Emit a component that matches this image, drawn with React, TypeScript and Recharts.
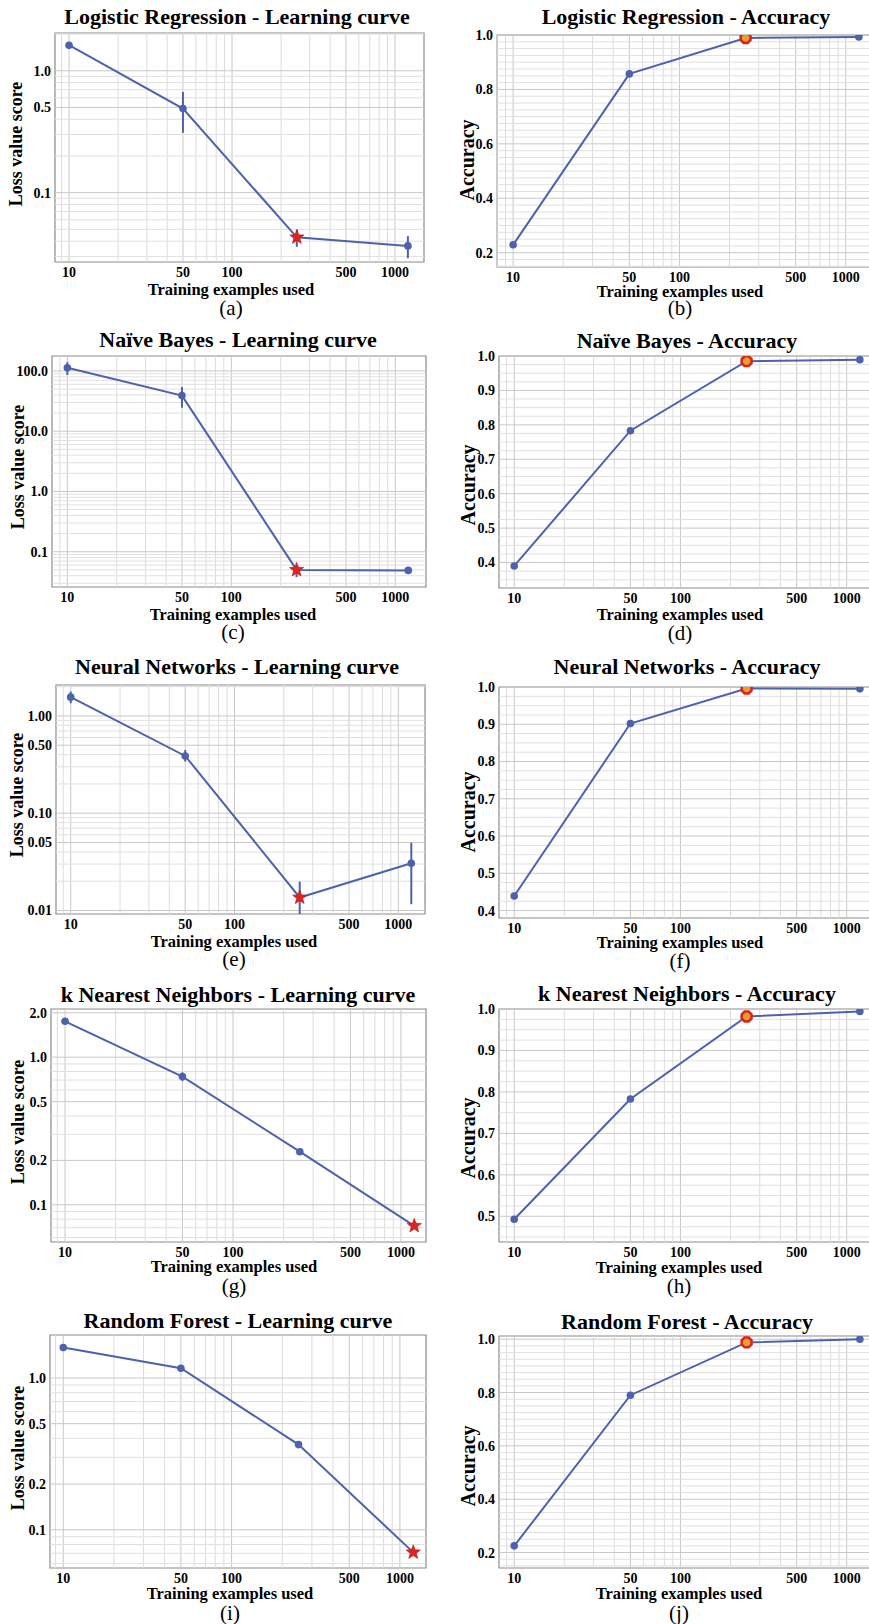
import React from 'react'
import { ComposedChart, Line, XAxis, YAxis, ErrorBar, ReferenceLine, ReferenceArea } from 'recharts'

// training set sizes shared by every panel
const trainingSizes = [10, 50, 250, 1200]
const xTicks = [10, 50, 100, 500, 1000]

// loss values (log axis); errors are [below, above]
const lrLoss = [1.62, 0.49, 0.043, 0.0366]
const lrLossErr = [[0, 0], [0.18, 0.18], [0.007, 0.007], [0.0076, 0.0074]]
const nbLoss = [113, 39, 0.05, 0.049]
const nbLossErr = [[27, 27], [14.4, 15], [0.012, 0.008], [0, 0]]
const nnLoss = [1.56, 0.388, 0.0136, 0.0306]
const nnLossErr = [[0.21, 0.22], [0.048, 0.059], [0.0044, 0.0062], [0.019, 0.019]]
const knnLoss = [1.75, 0.739, 0.229, 0.072]
const knnLossErr = [[0, 0], [0.05, 0.05], [0, 0], [0, 0]]
const rfLoss = [1.59, 1.16, 0.364, 0.071]
const rfLossErr = [[0, 0], [0, 0], [0, 0], [0, 0]]

// accuracy values
const lrAcc = [0.229, 0.857, 0.989, 0.993]
const nbAcc = [0.39, 0.783, 0.985, 0.989]
const nnAcc = [0.439, 0.902, 0.996, 0.995]
const knnAcc = [0.493, 0.783, 0.982, 0.994]
const rfAcc = [0.225, 0.79, 0.988, 1.0]

// tick labels
const lrLossTicks = [0.1, 0.5, 1.0]
const lrLossLabels = ['0.1', '0.5', '1.0']
const nbLossTicks = [0.1, 1, 10, 100]
const nbLossLabels = ['0.1', '1.0', '10.0', '100.0']
const nnLossTicks = [0.01, 0.05, 0.1, 0.5, 1]
const nnLossLabels = ['0.01', '0.05', '0.10', '0.50', '1.00']
const knnLossTicks = [0.1, 0.2, 0.5, 1, 2]
const knnLossLabels = ['0.1', '0.2', '0.5', '1.0', '2.0']
const rfLossTicks = [0.1, 0.2, 0.5, 1]
const rfLossLabels = ['0.1', '0.2', '0.5', '1.0']
const accTicksWide = [0.2, 0.4, 0.6, 0.8, 1.0]
const accTicksNarrow4 = [0.4, 0.5, 0.6, 0.7, 0.8, 0.9, 1.0]
const accTicksNarrow5 = [0.5, 0.6, 0.7, 0.8, 0.9, 1.0]

const BLUE = '#4d62ad'
const FONT = '"Liberation Serif", "Times New Roman", serif'
const YW = 50
const XH = 26
const M = 10

const logGrid = (lo: number, hi: number) => {
	const out: number[] = []
	for (let e = -3; e <= 3; e++) {
		for (let k = 1; k <= 9; k++) {
			const v = Number((k * Math.pow(10, e)).toPrecision(6))
			if (v >= lo && v <= hi) out.push(v)
		}
	}
	return out
}

const linGrid = (lo: number, hi: number) => {
	const out: number[] = []
	for (let i = 0; i <= 44; i++) {
		const v = Number((i * 0.025).toFixed(3))
		if (v >= lo && v <= hi) out.push(v)
	}
	return out
}

const Star = ({ cx, cy }: { cx: number; cy: number }) => {
	const pts = []
	for (let i = 0; i < 10; i++) {
		const a = ((-90 + i * 36) * Math.PI) / 180
		const r = i % 2 ? 3.2 : 7.5
		pts.push(`${cx + r * Math.cos(a)},${cy + r * Math.sin(a)}`)
	}
	return <polygon points={pts.join(' ')} fill="#e0231f" stroke="#b0181a" strokeWidth={0.6} />
}

const Hex = ({ cx, cy }: { cx: number; cy: number }) => {
	const pts = []
	for (let i = 0; i < 8; i++) {
		const a = ((22.5 + i * 45) * Math.PI) / 180
		pts.push(`${cx + 5.3 * Math.cos(a)},${cy + 5.3 * Math.sin(a)}`)
	}
	return <polygon points={pts.join(' ')} fill="#e8a02c" stroke="#d8261e" strokeWidth={2.6} />
}

type PanelProps = {
	title: string
	caption: string
	yLabel: string
	box: [number, number, number, number] // left, top, right, bottom
	xDomain: [number, number]
	yDomain: [number, number]
	log: boolean
	values: number[]
	errors?: number[][]
	best: number
	yTicks: number[]
	yLabels?: string[]
	titleXY: [number, number]
	xLabelXY: [number, number]
	captionY: number
	yLabelXY: [number, number]
	yLabelSize: number
}

const Panel = (p: PanelProps) => {
	const [l, t, r, b] = p.box
	const w = r - l + YW + M
	const h = b - t + M + XH
	const data = trainingSizes.map((x, i) => ({ x, y: p.values[i], err: p.errors ? p.errors[i] : [0, 0] }))
	const xGrid = logGrid(p.xDomain[0], p.xDomain[1])
	const yGrid = p.log ? logGrid(p.yDomain[0], p.yDomain[1]) : linGrid(p.yDomain[0], p.yDomain[1])
	const fmt = (v: number) => {
		if (p.yLabels) {
			const i = p.yTicks.indexOf(v)
			return i >= 0 ? p.yLabels[i] : ''
		}
		return v.toFixed(1)
	}
	const renderDot = (props: any) => {
		const { cx, cy, index } = props
		if (cx == null || cy == null) return <g key={`d${index}`} />
		if (index === p.best)
			return <g key={`d${index}`}>{p.log ? <Star cx={cx} cy={cy} /> : <Hex cx={cx} cy={cy} />}</g>
		return <circle key={`d${index}`} cx={cx} cy={cy} r={3.8} fill={BLUE} />
	}
	const text = (x: number, y: number, s: string, size: number, bold = true, rotate = false) => (
		<div
			style={{
				position: 'absolute',
				left: x,
				top: y,
				transform: `translate(-50%, -50%)${rotate ? ' rotate(-90deg)' : ''}`,
				fontSize: size,
				fontWeight: bold ? 'bold' : 'normal',
				lineHeight: 0.9,
				whiteSpace: 'nowrap',
				color: '#000',
			}}
		>
			{s}
		</div>
	)
	const tickStyle = { fontSize: 14, fontWeight: 'bold', fill: '#000', fontFamily: FONT }

	return (
		<>
			<div style={{ position: 'absolute', left: l - YW, top: t - M, width: w, height: h }}>
				<ComposedChart width={w} height={h} data={data} margin={{ top: M, right: M, left: 0, bottom: 0 }}>
					<XAxis
						dataKey="x"
						type="number"
						scale="log"
						domain={p.xDomain}
						allowDataOverflow
						ticks={xTicks}
						height={XH}
						tickLine={false}
						axisLine={false}
						tickSize={0}
						tickMargin={5}
						tick={tickStyle}
						interval={0}
					/>
					<YAxis
						type="number"
						scale={p.log ? 'log' : 'linear'}
						domain={p.yDomain}
						allowDataOverflow
						ticks={p.yTicks}
						tickFormatter={fmt}
						width={YW}
						tickLine={false}
						axisLine={false}
						tickSize={0}
						tickMargin={4}
						tick={tickStyle}
						interval={0}
					/>
					{xGrid.map((v) => (
						<ReferenceLine
							key={`gx${v}`}
							x={v}
							stroke={xTicks.includes(v) ? '#c8c8c8' : '#dcdcdc'}
							strokeWidth={1}
						/>
					))}
					{yGrid.map((v) => (
						<ReferenceLine
							key={`gy${v}`}
							y={v}
							stroke={p.yTicks.includes(v) ? '#c8c8c8' : '#e0e0e0'}
							strokeWidth={1}
						/>
					))}
					<ReferenceArea
						x1={p.xDomain[0]}
						x2={p.xDomain[1]}
						y1={p.yDomain[0]}
						y2={p.yDomain[1]}
						fill="none"
						stroke="#8a8a8a"
						strokeWidth={1.2}
					/>
					<Line
						dataKey="y"
						stroke={BLUE}
						strokeWidth={2}
						dot={renderDot}
						activeDot={false}
						isAnimationActive={false}
					>
						{p.errors && (
							<ErrorBar dataKey="err" width={0} stroke={BLUE} strokeWidth={2} direction="y" isAnimationActive={false} />
						)}
					</Line>
				</ComposedChart>
			</div>
			{text(p.titleXY[0], p.titleXY[1], p.title, 22)}
			{text(p.xLabelXY[0], p.xLabelXY[1] + 1, 'Training examples used', 16.5)}
			{text(p.xLabelXY[0], p.captionY, p.caption, 21, false)}
			{text(p.yLabelXY[0], p.yLabelXY[1], p.yLabel, p.yLabelSize, true, true)}
		</>
	)
}

const RIGHT_X: [number, number] = [8.1, 1480]

export default function App() {
	return (
		<div
			style={{
				position: 'absolute',
				left: 0,
				top: 0,
				width: 869,
				height: 1624,
				overflow: 'hidden',
				background: '#fff',
				fontFamily: FONT,
			}}
		>
			<Panel
				title="Logistic Regression - Learning curve"
				caption="(a)"
				yLabel="Loss value score"
				box={[55, 33, 424, 262]}
				xDomain={[8.2, 1507]}
				yDomain={[0.027, 2.04]}
				log
				values={lrLoss}
				errors={lrLossErr}
				best={2}
				yTicks={lrLossTicks}
				yLabels={lrLossLabels}
				titleXY={[237, 17]}
				xLabelXY={[231, 289]}
				captionY={308}
				yLabelXY={[16, 144]}
				yLabelSize={18}
			/>
			<Panel
				title="Logistic Regression - Accuracy"
				caption="(b)"
				yLabel="Accuracy"
				box={[497, 35, 875, 267]}
				xDomain={[8.0, 1500]}
				yDomain={[0.1475, 1.0]}
				log={false}
				values={lrAcc}
				best={2}
				yTicks={accTicksWide}
				titleXY={[686, 17]}
				xLabelXY={[680, 291]}
				captionY={308}
				yLabelXY={[467, 160]}
				yLabelSize={20}
			/>
			<Panel
				title="Naïve Bayes - Learning curve"
				caption="(c)"
				yLabel="Loss value score"
				box={[52, 356, 426, 587]}
				xDomain={[8.06, 1539]}
				yDomain={[0.026, 177]}
				log
				values={nbLoss}
				errors={nbLossErr}
				best={2}
				yTicks={nbLossTicks}
				yLabels={nbLossLabels}
				titleXY={[238, 340]}
				xLabelXY={[233, 614]}
				captionY={632}
				yLabelXY={[18, 467]}
				yLabelSize={18}
			/>
			<Panel
				title="Naïve Bayes - Accuracy"
				caption="(d)"
				yLabel="Accuracy"
				box={[499, 356, 875, 588]}
				xDomain={RIGHT_X}
				yDomain={[0.326, 1.0]}
				log={false}
				values={nbAcc}
				best={2}
				yTicks={accTicksNarrow4}
				titleXY={[687, 341]}
				xLabelXY={[680, 614]}
				captionY={633}
				yLabelXY={[468, 485]}
				yLabelSize={20}
			/>
			<Panel
				title="Neural Networks - Learning curve"
				caption="(e)"
				yLabel="Loss value score"
				box={[56, 685, 425, 914]}
				xDomain={[8.13, 1455]}
				yDomain={[0.0092, 2.08]}
				log
				values={nnLoss}
				errors={nnLossErr}
				best={2}
				yTicks={nnLossTicks}
				yLabels={nnLossLabels}
				titleXY={[237, 667]}
				xLabelXY={[234, 941]}
				captionY={959}
				yLabelXY={[17, 795]}
				yLabelSize={18}
			/>
			<Panel
				title="Neural Networks - Accuracy"
				caption="(f)"
				yLabel="Accuracy"
				box={[499, 687, 875, 918]}
				xDomain={RIGHT_X}
				yDomain={[0.38, 1.0]}
				log={false}
				values={nnAcc}
				best={2}
				yTicks={accTicksNarrow4}
				titleXY={[687, 667]}
				xLabelXY={[680, 942]}
				captionY={961}
				yLabelXY={[468, 812]}
				yLabelSize={20}
			/>
			<Panel
				title="k Nearest Neighbors - Learning curve"
				caption="(g)"
				yLabel="Loss value score"
				box={[51, 1009, 426, 1242]}
				xDomain={[8.25, 1410]}
				yDomain={[0.056, 2.12]}
				log
				values={knnLoss}
				errors={knnLossErr}
				best={3}
				yTicks={knnLossTicks}
				yLabels={knnLossLabels}
				titleXY={[238, 995]}
				xLabelXY={[234, 1266]}
				captionY={1286}
				yLabelXY={[18, 1122]}
				yLabelSize={18}
			/>
			<Panel
				title="k Nearest Neighbors - Accuracy"
				caption="(h)"
				yLabel="Accuracy"
				box={[499, 1009, 875, 1242]}
				xDomain={RIGHT_X}
				yDomain={[0.438, 1.0]}
				log={false}
				values={knnAcc}
				best={2}
				yTicks={accTicksNarrow5}
				titleXY={[687, 994]}
				xLabelXY={[679, 1267]}
				captionY={1286}
				yLabelXY={[468, 1138]}
				yLabelSize={20}
			/>
			<Panel
				title="Random Forest - Learning curve"
				caption="(i)"
				yLabel="Loss value score"
				box={[50, 1335, 426, 1568]}
				xDomain={[8.34, 1429]}
				yDomain={[0.056, 1.92]}
				log
				values={rfLoss}
				errors={rfLossErr}
				best={3}
				yTicks={rfLossTicks}
				yLabels={rfLossLabels}
				titleXY={[238, 1321]}
				xLabelXY={[230, 1593]}
				captionY={1613}
				yLabelXY={[18, 1448]}
				yLabelSize={18}
			/>
			<Panel
				title="Random Forest - Accuracy"
				caption="(j)"
				yLabel="Accuracy"
				box={[499, 1336, 875, 1568]}
				xDomain={RIGHT_X}
				yDomain={[0.142, 1.012]}
				log={false}
				values={rfAcc}
				best={2}
				yTicks={accTicksWide}
				titleXY={[687, 1322]}
				xLabelXY={[679, 1593]}
				captionY={1613}
				yLabelXY={[468, 1466]}
				yLabelSize={20}
			/>
		</div>
	)
}
